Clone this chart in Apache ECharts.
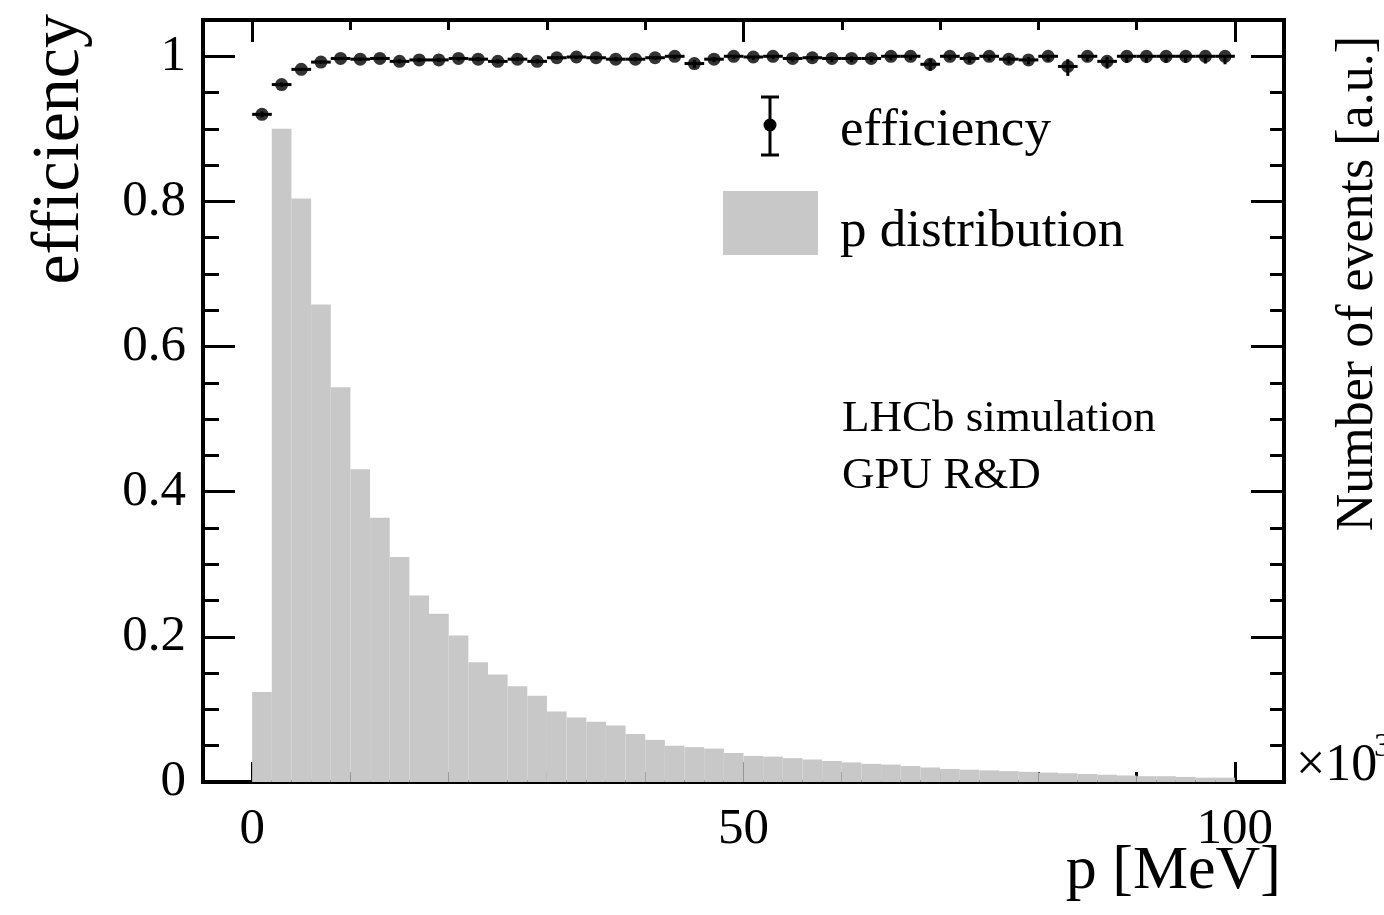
<!DOCTYPE html>
<html>
<head>
<meta charset="utf-8">
<script src="https://cdn.jsdelivr.net/npm/echarts@6/dist/echarts.min.js"></script>
<style>
  html, body { margin: 0; padding: 0; background: #fff; }
  #chart { width: 1384px; height: 915px; }
</style>
</head>
<body>
<div id="chart"></div>
<script>
// ---------------- data ----------------
// histogram (p distribution), bin lower edges [MeV] and contents [a.u.]
const histBinLow = [0,2,4,6,8,10,12,14,16,18,20,22,24,26,28,30,32,34,36,38,40,42,44,46,48,
                    50,52,54,56,58,60,62,64,66,68,70,72,74,76,78,80,82,84,86,88,90,92,94,96,98];
const histBinWidth = 2;
const histValues = [0.124,0.900,0.804,0.658,0.544,0.431,0.364,0.310,0.257,0.232,
                    0.202,0.165,0.148,0.132,0.119,0.097,0.089,0.083,0.078,0.066,
                    0.058,0.050,0.048,0.046,0.040,0.036,0.035,0.033,0.031,0.029,
                    0.027,0.025,0.024,0.022,0.020,0.018,0.017,0.016,0.015,0.014,
                    0.013,0.012,0.011,0.010,0.009,0.008,0.008,0.007,0.006,0.006];
// efficiency points (bin centres) with asymmetric errors
const effP = [1,3,5,7,9,11,13,15,17,19,21,23,25,27,29,31,33,35,37,39,41,43,45,47,49,
              51,53,55,57,59,61,63,65,67,69,71,73,75,77,79,81,83,85,87,89,91,93,95,97,99];
const effValues = [0.920,0.961,0.982,0.992,0.997,0.996,0.997,0.993,0.995,0.995,
                   0.997,0.996,0.993,0.996,0.993,0.998,0.999,0.998,0.996,0.996,
                   0.998,1.000,0.990,0.996,1.000,0.999,1.000,0.997,0.998,0.997,
                   0.997,0.997,1.000,1.000,0.989,1.000,0.997,1.000,0.996,0.995,
                   1.000,0.986,1.000,0.993,1.000,1.000,1.000,1.000,1.000,1.000];
const effErrLow = [0.004,0.003,0.002,0.002,0.002,0.002,0.002,0.003,0.003,0.003,
                   0.003,0.003,0.003,0.003,0.003,0.003,0.003,0.003,0.003,0.003,
                   0.003,0.004,0.006,0.004,0.004,0.004,0.004,0.004,0.004,0.005,
                   0.005,0.005,0.005,0.005,0.009,0.005,0.006,0.006,0.006,0.006,
                   0.007,0.013,0.007,0.010,0.009,0.009,0.009,0.009,0.010,0.011];
const effErrHigh = [0.004,0.003,0.002,0.002,0.002,0.002,0.002,0.003,0.003,0.003,
                    0.002,0.003,0.003,0.003,0.003,0.002,0.001,0.002,0.003,0.003,
                    0.002,0.000,0.005,0.003,0.000,0.001,0.000,0.003,0.002,0.003,
                    0.003,0.003,0.000,0.000,0.007,0.000,0.003,0.000,0.004,0.004,
                    0.000,0.010,0.000,0.006,0.000,0.000,0.000,0.000,0.000,0.000];
// axis ticks
const xMajorTicks = [0, 50, 100];
const xMinorTicks = [10, 20, 30, 40, 60, 70, 80, 90];
const yMajorTicks = [0, 0.2, 0.4, 0.6, 0.8, 1];
const yMinorTicks = [0.05, 0.1, 0.15, 0.25, 0.3, 0.35, 0.45, 0.5, 0.55, 0.65, 0.7, 0.75, 0.85, 0.9, 0.95];
const xRange = [-5, 105];
const yRange = [0, 1.05];
const xTitle = 'p [MeV]';
const yTitle = 'efficiency';
const y2Title = 'Number of events [a.u.]';
const legendEff = 'efficiency';
const legendHist = 'p distribution';
const noteLines = ['LHCb simulation', 'GPU R&D'];

// ---------------- chart ----------------
const FONT = '"Liberation Serif", "Times New Roman", serif';
const chart = echarts.init(document.getElementById('chart'), null, { renderer: 'canvas' });

function xAxisDef(pos, ticks, len, withLabels, withLine) {
  return {
    type: 'value', position: pos, min: xRange[0], max: xRange[1],
    axisLine: { show: withLine, onZero: false, lineStyle: { color: '#000', width: 4, cap: 'square' } },
    axisTick: { show: true, inside: true, length: len, customValues: ticks, lineStyle: { color: '#000', width: 3 } },
    axisLabel: withLabels ? { show: true, customValues: ticks, margin: 22, color: '#000', fontFamily: FONT, fontSize: 51 } : { show: false },
    splitLine: { show: false }
  };
}
function yAxisDef(pos, ticks, len, withLabels, withLine) {
  return {
    type: 'value', position: pos, min: yRange[0], max: yRange[1],
    axisLine: { show: withLine, onZero: false, lineStyle: { color: '#000', width: 4, cap: 'square' } },
    axisTick: { show: true, inside: true, length: len, customValues: ticks, lineStyle: { color: '#000', width: 3 } },
    axisLabel: withLabels ? { show: true, customValues: ticks, margin: 17, color: '#000', fontFamily: FONT, fontSize: 51 } : { show: false },
    splitLine: { show: false }
  };
}

const histData = histBinLow.map((lo, i) => [lo, lo + histBinWidth, histValues[i]]);
const effData = effP.map((p, i) => [p, effValues[i], effErrLow[i], effErrHigh[i]]);
const halfBin = histBinWidth / 2;

const option = {
  backgroundColor: '#fff',
  animation: false,
  grid: { left: 203, right: 100, top: 20, bottom: 133, containLabel: false },
  xAxis: [
    xAxisDef('bottom', xMajorTicks, 20, true, true),
    xAxisDef('bottom', xMinorTicks, 10, false, false),
    xAxisDef('top', xMajorTicks, 22, false, true),
    xAxisDef('top', xMinorTicks, 10, false, false)
  ],
  yAxis: [
    yAxisDef('left', yMajorTicks, 32, true, true),
    yAxisDef('left', yMinorTicks, 16, false, false),
    yAxisDef('right', yMajorTicks, 33, false, true),
    yAxisDef('right', yMinorTicks, 14, false, false)
  ],
  series: [
    {
      name: legendHist, type: 'custom', xAxisIndex: 0, yAxisIndex: 2, z: 1,
      data: histData,
      renderItem: function (params, api) {
        const tl = api.coord([api.value(0), api.value(2)]);
        const br = api.coord([api.value(1), 0]);
        return { type: 'rect', shape: { x: tl[0], y: tl[1], width: br[0] - tl[0], height: br[1] - tl[1] },
                 style: { fill: '#c8c8c8' } };
      }
    },
    {
      name: legendEff + ' errors', type: 'custom', xAxisIndex: 0, yAxisIndex: 0, z: 3,
      data: effData,
      renderItem: function (params, api) {
        const x = api.value(0), y = api.value(1), lo = api.value(2), hi = api.value(3);
        const a = api.coord([x - halfBin, y]), b = api.coord([x + halfBin, y]);
        const t = api.coord([x, y + hi]), d = api.coord([x, y - lo]);
        return { type: 'group', children: [
          { type: 'line', shape: { x1: a[0], y1: a[1], x2: b[0], y2: b[1] }, style: { stroke: '#000', lineWidth: 3 } },
          { type: 'line', shape: { x1: t[0], y1: t[1], x2: d[0], y2: d[1] }, style: { stroke: '#000', lineWidth: 3 } }
        ] };
      }
    },
    {
      name: legendEff, type: 'scatter', xAxisIndex: 0, yAxisIndex: 0, z: 4,
      symbol: 'circle', symbolSize: 13,
      itemStyle: { color: '#000' },
      data: effData.map(r => [r[0], r[1]])
    }
  ],
  graphic: [
    { type: 'text', x: 60, y: 14, rotation: Math.PI / 2, z: 10,
      style: { text: yTitle, font: '68px ' + FONT, fill: '#000', align: 'right', verticalAlign: 'middle' } },
    { type: 'text', x: 1281, y: 872, z: 10,
      style: { text: xTitle, font: '62px ' + FONT, fill: '#000', align: 'right', verticalAlign: 'middle' } },
    { type: 'text', x: 1358, y: 36, rotation: Math.PI / 2, z: 10,
      style: { text: y2Title, font: '52px ' + FONT, fill: '#000', align: 'right', verticalAlign: 'middle' } },
    { type: 'text', x: 1296, y: 766, z: 10,
      style: { text: '×10', font: '52px ' + FONT, fill: '#000', align: 'left', verticalAlign: 'middle' } },
    { type: 'text', x: 1374, y: 747, z: 10,
      style: { text: '3', font: '34px ' + FONT, fill: '#000', align: 'left', verticalAlign: 'middle' } },
    // legend
    { type: 'line', z: 10, shape: { x1: 770, y1: 97, x2: 770, y2: 155 }, style: { stroke: '#000', lineWidth: 3 } },
    { type: 'line', z: 10, shape: { x1: 761, y1: 97, x2: 779, y2: 97 }, style: { stroke: '#000', lineWidth: 3 } },
    { type: 'line', z: 10, shape: { x1: 761, y1: 155, x2: 779, y2: 155 }, style: { stroke: '#000', lineWidth: 3 } },
    { type: 'circle', z: 10, shape: { cx: 770, cy: 125, r: 6.5 }, style: { fill: '#000' } },
    { type: 'text', x: 840, y: 131, z: 10,
      style: { text: legendEff, font: '53px ' + FONT, fill: '#000', align: 'left', verticalAlign: 'middle' } },
    { type: 'rect', z: 10, shape: { x: 723, y: 191, width: 95, height: 64 }, style: { fill: '#c8c8c8' } },
    { type: 'text', x: 840, y: 232, z: 10,
      style: { text: legendHist, font: '53px ' + FONT, fill: '#000', align: 'left', verticalAlign: 'middle' } },
    // annotation
    { type: 'text', x: 842, y: 419, z: 10,
      style: { text: noteLines[0], font: '45px ' + FONT, fill: '#000', align: 'left', verticalAlign: 'middle' } },
    { type: 'text', x: 842, y: 476, z: 10,
      style: { text: noteLines[1], font: '45px ' + FONT, fill: '#000', align: 'left', verticalAlign: 'middle' } }
  ]
};
chart.setOption(option);
</script>
</body>
</html>
